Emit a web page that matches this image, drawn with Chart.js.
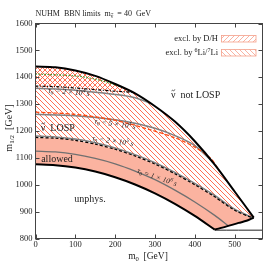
<!DOCTYPE html>
<html>
<head>
<meta charset="utf-8">
<script src="https://cdn.jsdelivr.net/npm/chart.js@4.4.1/dist/chart.umd.min.js"></script>
<style>
  html, body { margin: 0; padding: 0; background: #fff; }
</style>
</head>
<body>
<canvas id="chart" width="275" height="267"></canvas>
<script>
const SERIF = "'Liberation Serif', 'DejaVu Serif', serif";

// axis ranges and ticks
const xTicks = [0, 100, 200, 300, 400, 500];
const yTicks = [800, 900, 1000, 1100, 1200, 1300, 1400, 1500, 1600];
const X_MAX = 570;

// upper edge of the sneutrino LOSP region (thick black)
const losp_m0  = [0, 50, 100, 150, 200, 250, 300, 350, 400, 450, 500, 548];
const losp_m12 = [1440, 1437, 1425, 1405, 1375, 1340, 1292, 1235, 1162, 1075, 975, 878];

// unphysical boundary (thick black, lower)
const unphys_m0  = [0, 50, 100, 150, 200, 250, 300, 350, 400, 450];
const unphys_m12 = [1076, 1073, 1064, 1049, 1028, 1001, 968, 929, 884, 833];

// lower right edge up to the tip
const edge_m0  = [450, 480, 510, 530, 548];
const edge_m12 = [833, 845, 858, 866, 878];

// thin flat line on the right
const flat_m0  = [450, 570];
const flat_m12 = [831, 831];

// 6Li/7Li exclusion boundary (black dashed)
const li_m0  = [0, 50, 100, 150, 200, 250, 300, 350, 400, 450, 500, 546];
const li_m12 = [1176, 1173, 1165, 1151, 1132, 1107, 1077, 1041, 1000, 955, 905, 876];

// D/H exclusion boundary (black dash-dot)
const dh_m0  = [0, 50, 100, 150, 200, 245];
const dh_m12 = [1367, 1365, 1360, 1354, 1348, 1344];

// green dotted line
const green_m0  = [0, 100, 150, 200, 228];
const green_m12 = [1412, 1405, 1393, 1372, 1356];

// orange dashed line
const orange_m0  = [0, 100, 200, 287, 350, 400, 440, 462];
const orange_m12 = [1270, 1262, 1240, 1205, 1175, 1140, 1098, 1051];

// lifetime contours (gray)
const tau1_m0  = [0, 100, 200, 250, 290];
const tau1_m12 = [1359, 1352, 1336, 1324, 1302];
const tau2_m0  = [0, 100, 200, 250, 300, 350, 400, 445];
const tau2_m12 = [1262, 1257, 1242, 1229, 1210, 1183, 1146, 1084];
const tau3_m0  = [0, 50, 100, 150, 200, 250, 300, 350, 400, 450, 500, 546];
const tau3_m12 = [1181, 1178, 1170, 1156, 1137, 1112, 1082, 1046, 1005, 960, 909, 877];
const tau4_m0  = [0, 50, 100, 150, 200, 250, 300, 350, 400, 450, 484];
const tau4_m12 = [1125, 1122, 1113, 1098, 1078, 1051, 1019, 980, 936, 886, 847];

const tauMant = ['2', '5', '2', '1'];
const tauExp  = ['4', '4', '5', '6'];

function pts(xs, ys) {
  return xs.map((x, i) => ({ x: x, y: ys[i] }));
}

function hatch(dir, color, w) {
  const s = 5;
  const c = document.createElement('canvas');
  c.width = s; c.height = s;
  const g = c.getContext('2d');
  g.strokeStyle = color;
  g.lineWidth = w;
  g.beginPath();
  for (const o of [-s, 0, s]) {
    if (dir === '\\') { g.moveTo(o, 0); g.lineTo(o + s, s); }
    else { g.moveTo(o, s); g.lineTo(o + s, 0); }
  }
  g.stroke();
  return g.createPattern(c, 'repeat');
}

const HATCH_COL = '#ff5f3f';
const backHatch = hatch('\\', HATCH_COL, 0.9);
const fwdHatch = hatch('/', HATCH_COL, 0.9);
const backKey = hatch('\\', '#f9a08c', 0.8);
const fwdKey = hatch('/', '#f9a08c', 0.8);

// polygons built from the curves
const allowedPoly = pts(unphys_m0, unphys_m12)
  .concat(pts(edge_m0, edge_m12).slice(1))
  .concat(pts(li_m0, li_m12).reverse());
const liPoly = pts(li_m0, li_m12)
  .concat(pts(losp_m0, losp_m12).reverse());
const dhPoly = pts(dh_m0, dh_m12)
  .concat(pts(losp_m0, losp_m12).filter(p => p.x < dh_m0[dh_m0.length - 1]).reverse());

function line(data, color, width, dash, order) {
  return {
    data: data, showLine: true, fill: false, pointRadius: 0,
    borderColor: color, borderWidth: width, borderDash: dash || [],
    tension: 0.3, order: order
  };
}

function area(data, bg, order) {
  return {
    data: data, showLine: true, fill: 'shape', pointRadius: 0,
    borderColor: 'rgba(0,0,0,0)', borderWidth: 0, backgroundColor: bg,
    tension: 0.3, order: order
  };
}

const datasets = [
  area(allowedPoly, '#fbb3a0', 8),
  area(liPoly, backHatch, 7),
  area(dhPoly, fwdHatch, 6),
  line(pts(tau1_m0, tau1_m12), '#808080', 1.5, [], 3),
  line(pts(tau2_m0, tau2_m12), '#808080', 1.5, [], 3),
  line(pts(tau3_m0, tau3_m12), '#808080', 1.5, [], 3),
  line(pts(tau4_m0, tau4_m12), '#707070', 1.3, [], 3),
  line(pts(orange_m0, orange_m12), '#ff4a10', 1.3, [4, 2], 2),
  line(pts(green_m0, green_m12), '#3a9a2a', 1.2, [1.5, 1.5], 2),
  line(pts(li_m0, li_m12), '#000', 1.2, [3, 2], 2),
  line(pts(dh_m0, dh_m12), '#000', 1.2, [3, 1.5, 1, 1.5], 2),
  line(pts(flat_m0, flat_m12), '#222', 1, [], 1),
  line(pts(losp_m0, losp_m12), '#000', 2, [], 0),
  line(pts(unphys_m0, unphys_m12), '#000', 2, [], 0),
  line(pts(edge_m0, edge_m12), '#000', 2, [], 0)
];

// text with sub/superscripts; parts = [[text, 'n'|'sub'|'sup', tilde?], ...]
function richText(ctx, parts, x, y, size, opt) {
  opt = opt || {};
  const fs = k => (k === 'n' ? size : size * 0.7);
  const fontFor = k => (opt.italic ? 'italic ' : '') + fs(k) + 'px ' + SERIF;
  let w = 0;
  parts.forEach(([t, k]) => { ctx.font = fontFor(k); w += ctx.measureText(t).width; });
  let cx = opt.align === 'right' ? -w : opt.align === 'left' ? 0 : -w / 2;
  ctx.save();
  ctx.translate(x, y);
  ctx.rotate((opt.angle || 0) * Math.PI / 180);
  ctx.textBaseline = 'middle';
  ctx.textAlign = 'left';
  ctx.fillStyle = opt.color || '#222';
  ctx.strokeStyle = opt.color || '#222';
  parts.forEach(([t, k, tilde]) => {
    ctx.font = fontFor(k);
    const dy = k === 'sub' ? size * 0.3 : k === 'sup' ? -size * 0.35 : 0;
    ctx.fillText(t, cx, dy);
    const tw = ctx.measureText(t).width;
    if (tilde) {
      // small tilde over the first glyph
      const f = fs(k);
      const gw = ctx.measureText(t[0]).width;
      const tx = cx + gw * 0.15, ty = dy - f * 0.5, tlen = gw * 0.7, h = f * 0.09;
      ctx.lineWidth = Math.max(0.6, f * 0.07);
      ctx.beginPath();
      ctx.moveTo(tx, ty + h);
      ctx.bezierCurveTo(tx + tlen * 0.3, ty - h * 2, tx + tlen * 0.7, ty + h * 3, tx + tlen, ty - h);
      ctx.stroke();
    }
    cx += tw;
  });
  ctx.restore();
}

const decor = {
  id: 'decor',
  afterDatasetsDraw(chart) {
    const { ctx, chartArea: a, scales: { x, y } } = chart;
    ctx.save();
    ctx.strokeStyle = '#444';
    ctx.lineWidth = 1;
    ctx.beginPath();
    x.ticks.forEach(t => {
      const px = Math.round(x.getPixelForValue(t.value)) + 0.5;
      ctx.moveTo(px, a.bottom); ctx.lineTo(px, a.bottom - 4);
      ctx.moveTo(px, a.top); ctx.lineTo(px, a.top + 4);
    });
    y.ticks.forEach(t => {
      const py = Math.round(y.getPixelForValue(t.value)) + 0.5;
      ctx.moveTo(a.left, py); ctx.lineTo(a.left + 4, py);
      ctx.moveTo(a.right, py); ctx.lineTo(a.right - 4, py);
    });
    ctx.stroke();
    ctx.strokeRect(a.left, a.top, a.right - a.left, a.bottom - a.top);
    ctx.restore();
  },
  afterDraw(chart) {
    const { ctx, chartArea: a, scales: { x, y } } = chart;
    const P = (m0, m12) => [x.getPixelForValue(m0), y.getPixelForValue(m12)];

    // title
    richText(ctx, [['NUHM  BBN limits  m', 'n'], ['ν', 'sub', true], ['  = 40  GeV', 'n']],
      a.left, 14, 8, { align: 'left' });

    // axis titles
    richText(ctx, [['m', 'n'], ['0', 'sub'], ['  [GeV]', 'n']], 148, 256, 9.5);
    richText(ctx, [['m', 'n'], ['1/2', 'sub'], ['  [GeV]', 'n']], 9, 128, 10, { angle: -90 });

    // region labels
    let p = P(402, 1333);
    richText(ctx, [['ν', 'n', true], ['  not LOSP', 'n']], p[0], p[1], 10);
    p = P(56, 1210);
    richText(ctx, [['ν', 'n', true], ['  LOSP', 'n']], p[0], p[1], 10);
    p = P(54, 1094);
    richText(ctx, [['allowed', 'n']], p[0], p[1], 10);
    p = P(137, 945);
    richText(ctx, [['unphys.', 'n']], p[0], p[1], 10);

    // lifetime labels
    const tauPos = [[84, 1344, 5], [200, 1225, 8], [194, 1162, 8], [305, 1027, 19]];
    tauPos.forEach((q, i) => {
      const pp = P(q[0], q[1]);
      richText(ctx, [['τ', 'n'], ['0', 'sub'], [' = ' + tauMant[i] + ' × 10', 'n'], [tauExp[i], 'sup'], [' s', 'n']],
        pp[0], pp[1], 7.5, { italic: true, angle: q[2], color: '#222' });
    });

    // legend
    const legend = [
      { parts: [['excl. by D/H', 'n']], pat: fwdKey, y: 39 },
      { parts: [['excl. by ', 'n'], ['6', 'sup'], ['Li/', 'n'], ['7', 'sup'], ['Li', 'n']], pat: backKey, y: 53 }
    ];
    legend.forEach(l => {
      richText(ctx, l.parts, 218, l.y, 8.5, { align: 'right' });
      ctx.save();
      ctx.fillStyle = l.pat;
      ctx.fillRect(221, l.y - 3.5, 35, 6.5);
      ctx.strokeStyle = '#f4a08a';
      ctx.lineWidth = 0.8;
      ctx.strokeRect(221.5, l.y - 3.5, 34.5, 6.5);
      ctx.restore();
    });
  }
};

const tickFont = { family: SERIF, size: 8.5 };

new Chart(document.getElementById('chart'), {
  type: 'scatter',
  data: { datasets: datasets },
  options: {
    responsive: false,
    animation: false,
    layout: { padding: { left: 0, right: 12.5, top: 23.5, bottom: 0 } },
    plugins: { legend: { display: false }, tooltip: { enabled: false } },
    scales: {
      x: {
        type: 'linear', min: 0, max: X_MAX,
        afterFit: s => { s.height = 28.5; },
        afterBuildTicks: s => { s.ticks = xTicks.map(v => ({ value: v })); },
        ticks: { font: tickFont, color: '#222', padding: 1, callback: v => String(v) },
        grid: { display: false, drawTicks: false },
        border: { display: false }
      },
      y: {
        type: 'linear', min: 800, max: 1600,
        afterFit: s => { s.width = 35.5; },
        afterBuildTicks: s => { s.ticks = yTicks.map(v => ({ value: v })); },
        ticks: { font: tickFont, color: '#222', padding: 3, callback: v => String(v) },
        grid: { display: false, drawTicks: false },
        border: { display: false }
      }
    }
  },
  plugins: [decor]
});
</script>
</body>
</html>
